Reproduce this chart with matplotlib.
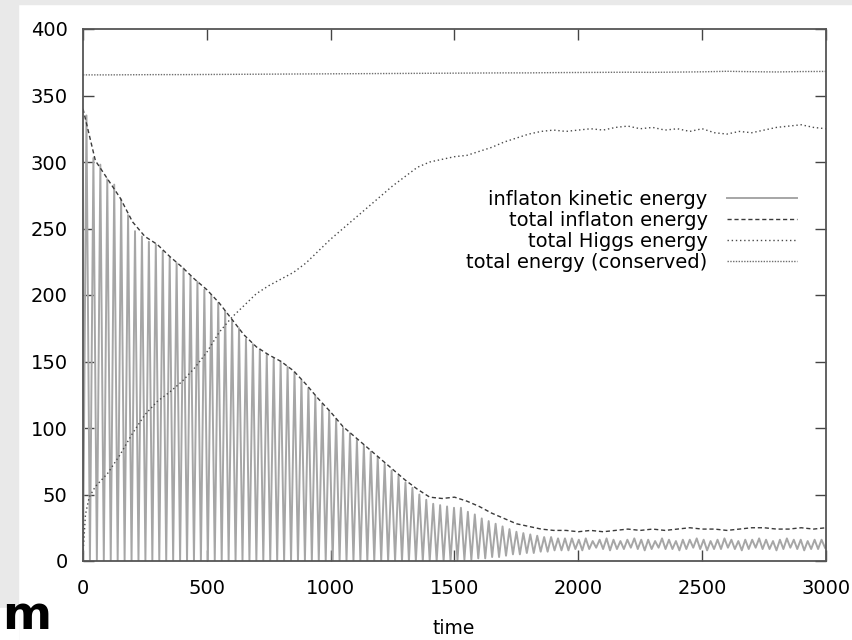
import matplotlib.pyplot as plt
import numpy as np
from matplotlib.patches import Rectangle

# ---- values ----
# total inflaton energy, sampled every 50 time units
energy_t = np.arange(0, 3001, 50)
inflaton_total = [340, 301, 287, 273, 255, 244, 238, 229, 221, 212,
                  204, 194, 182, 170, 161, 155, 150, 143, 133, 122,
                  112, 101, 93, 85, 77, 69, 61, 54, 48, 47,
                  48, 45, 41, 36, 32, 28, 26, 24, 23, 23,
                  22, 23, 22, 23, 24, 23, 24, 23, 24, 25,
                  24, 24, 23, 24, 25, 25, 24, 24, 25, 24, 25]

# total Higgs energy
higgs_t = [0, 10, 25, 50] + list(range(100, 3001, 50))
higgs_total = [5, 35, 48, 56,
               66, 80, 96, 110, 120, 127, 135, 145, 157, 172,
               183, 192, 201, 207, 212, 217, 224, 233, 242, 250,
               258, 266, 274, 282, 289, 296, 300, 302, 304, 305,
               308, 311, 315, 318, 321, 323, 324, 323, 324, 325,
               324, 326, 327, 325, 326, 324, 325, 323, 325, 322,
               321, 323, 322, 324, 326, 327, 328, 326, 325]

# total energy (conserved), every 100 time units
conserved_t = np.arange(0, 3001, 100)
conserved_total = [365.5, 365.5, 365.6, 365.7, 365.7, 365.8, 365.9, 366.0,
                   366.1, 366.2, 366.3, 366.4, 366.5, 366.6, 366.7, 366.8,
                   366.9, 367.0, 367.0, 367.2, 367.3, 367.4, 367.5, 367.4,
                   367.6, 367.8, 368.2, 367.9, 367.7, 368.0, 368.1]

# inflaton kinetic energy: one peak and one trough per oscillation (~28 units)
ke_peak_t = np.arange(14, 3000, 28)
ke_peaks = [335, 303, 298, 287, 283, 272, 260, 248, 244, 240,
            238, 233, 228, 224, 220, 214, 210, 204, 200, 194,
            188, 181, 175, 167, 163, 159, 155, 152, 150, 146,
            142, 136, 130, 124, 118, 113, 107, 100, 96, 91,
            87, 82, 78, 73, 68, 64, 59, 55, 50, 46,
            43, 42, 41, 40, 40, 37, 35, 32, 30, 28,
            26, 24, 22, 21, 20, 19, 18, 18, 17, 17,
            17, 16, 17, 15, 16, 17, 16, 15, 16, 17,
            16, 16, 15, 17, 16, 15, 16, 16, 17, 16,
            15, 16, 17, 16, 15, 16, 16, 17, 16, 15,
            16, 17, 16, 16, 15, 16, 16]
ke_trough_t = np.arange(0, 3001, 28)
ke_troughs = [0] * 54 + [0.5, 1, 1, 2, 2, 3, 3, 4, 5, 5, 6, 6, 7, 7, 8, 8] + \
             [8, 9, 8, 9, 10, 9, 8, 9, 9, 10, 9, 8, 9, 10, 9, 9, 8, 9, 10,
              9, 8, 9, 9, 10, 9, 8, 9, 10, 9, 9, 8, 9, 10, 9, 8, 9, 9, 10]

# interleave troughs and peaks into one oscillating line
ke_t = np.empty(len(ke_trough_t) + len(ke_peak_t))
ke_v = np.empty_like(ke_t)
ke_t[0::2], ke_v[0::2] = ke_trough_t, ke_troughs
ke_t[1::2], ke_v[1::2] = ke_peak_t, ke_peaks

# ---- figure ----
plt.rcParams['font.family'] = 'DejaVu Sans'
fig = plt.figure(figsize=(8.52, 6.4), dpi=100)
W, H = 852, 640

# textured slide background strips
fig.patches.append(Rectangle((0, 0), 18 / W, 1, transform=fig.transFigure,
                             color='#e9e9e9', zorder=0))
fig.patches.append(Rectangle((0, 1 - 4 / H), 1, 4 / H, transform=fig.transFigure,
                             color='#e9e9e9', zorder=0))
fig.patches.append(Rectangle((0, 0), 18 / W, 32 / H, transform=fig.transFigure,
                             color='white', zorder=0))

ax = fig.add_axes([83 / W, 1 - 561 / H, (826 - 83) / W, (561 - 29) / H])

ax.plot(ke_t, ke_v, color='#a6a6a6', lw=1.4, label='inflaton kinetic energy')
ax.plot(energy_t, inflaton_total, color='#3a3a3a', lw=1.0,
        linestyle=(0, (3, 2)), label='total inflaton energy')
ax.plot(higgs_t, higgs_total, color='#4a4a4a', lw=1.0,
        linestyle=(0, (1, 2)), label='total Higgs energy')
ax.plot(conserved_t, conserved_total, color='#6e6e6e', lw=1.0,
        linestyle=(0, (1, 1)), label='total energy (conserved)')

ax.set_xlim(0, 3000)
ax.set_ylim(0, 400)
ax.set_xticks(range(0, 3001, 500))
ax.set_yticks(range(0, 401, 50))
ax.tick_params(direction='in', top=True, right=True, length=8, width=1,
               color='#444444', labelsize=14)
ax.tick_params(axis='y', pad=11)
ax.tick_params(axis='x', pad=13)
for s in ax.spines.values():
    s.set_linewidth(1.3)
    s.set_color('#555555')

fig.text(454 / W, 1 - 628 / H, 'time', ha='center', va='center', fontsize=13.5)

ax.legend(loc='upper right', bbox_to_anchor=(797 / W, 1 - 190 / H),
          bbox_transform=fig.transFigure, frameon=False, markerfirst=False,
          borderpad=0, borderaxespad=0, handlelength=3.6, handletextpad=1.0,
          labelspacing=0.1, fontsize=14)

# partial slide text in the corner
fig.text(2 / W, 1 / H, 'm', fontsize=34, fontweight='bold', ha='left',
         va='bottom', color='black')

fig.savefig('out.png', dpi=100)
